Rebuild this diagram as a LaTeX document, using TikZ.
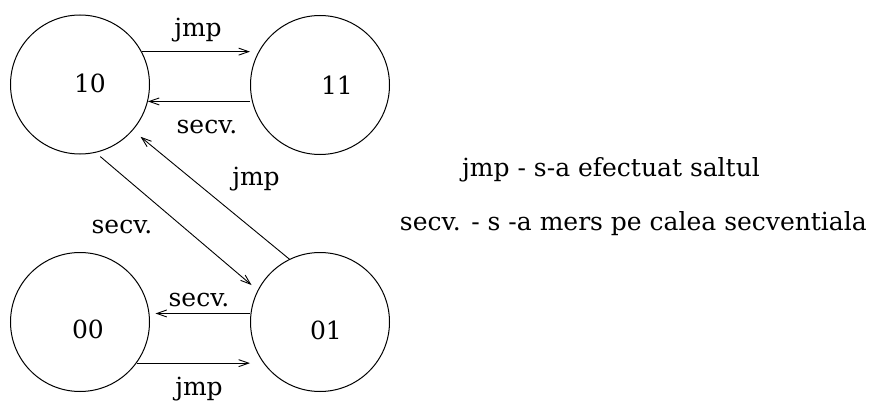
\documentclass[tikz,border=0pt]{standalone}
\usepackage{fontspec}
\setmainfont{DejaVu Serif}
\usetikzlibrary{arrows.meta}
\begin{document}
\begin{tikzpicture}[x=1pt,y=-1pt,
  state/.style={draw,circle,line width=1pt,minimum size=139pt,inner sep=0pt},
  txt/.style={font=\fontsize{25}{28}\selectfont,anchor=base,inner sep=0pt},
  edge/.style={line width=0.9pt,-{Straight Barb[length=10pt,width=7pt,line width=0.9pt]}}]
  \useasboundingbox (0,0) rectangle (872,401);
  % the four states of the predictor
  \node[state] (s10) at (80,84.5) {};
  \node[state] (s11) at (320,85) {};
  \node[state] (s00) at (80,322) {};
  \node[state] (s01) at (320,322) {};
  \node[txt] (l10) at (90,93) {10};
  \node[txt] (l11) at (337,95) {11};
  \node[txt] (l00) at (88,338) {00};
  \node[txt] (l01) at (326,339) {01};
  % transitions
  \draw[edge] (s10.28) -- (s10.28 -| s11.west);
  \draw[edge] (s10.-14 -| s11.west) -- (s10.-14);
  \draw[edge,shorten <=6pt,shorten >=8pt] (s10.-77) -- (s01.153);
  \draw[edge,shorten >=10pt] (s01.116) -- (s10.-41.5);
  \draw[edge,shorten >=6pt] (s00.7.4 -| s01.west) -- (s00.7.4);
  \draw[edge] (s00.-36) -- (s00.-36 -| s01.west);
  % transition labels
  \node[txt] (e1) at (198,37) {jmp};
  \node[txt] (e2) at (207,133) {secv.};
  \node[txt] (e3) at (256,185) {jmp};
  \node[txt] (e4) at (122,233) {secv.};
  \node[txt] (e5) at (199,306) {secv.};
  \node[txt] (e6) at (199,395) {jmp};
  % legend
  \node[txt,anchor=base west] (k1) at (462,176) {jmp - s-a efectuat saltul};
  \node[txt,anchor=base east] (k2) at (867,230) {secv. - s -a mers pe calea secventiala};
\end{tikzpicture}
\end{document}
